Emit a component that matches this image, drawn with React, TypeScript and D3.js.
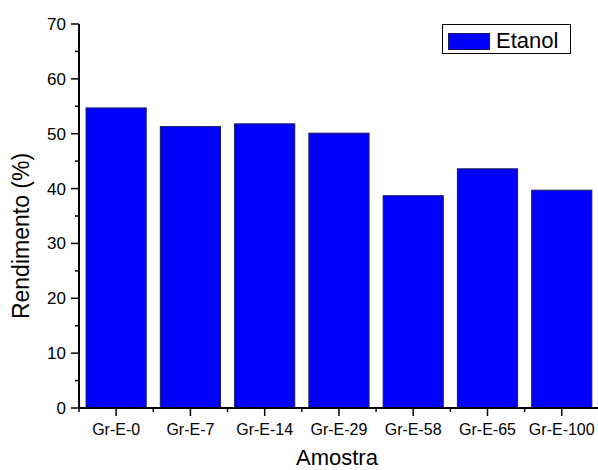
import React from "react";
import * as d3 from "d3";

const categories = ["Gr-E-0", "Gr-E-7", "Gr-E-14", "Gr-E-29", "Gr-E-58", "Gr-E-65", "Gr-E-100"];
const values = [54.7, 51.3, 51.8, 50.1, 38.7, 43.6, 39.7];
const yTicks = [0, 10, 20, 30, 40, 50, 60, 70];
const yMinor = [5, 15, 25, 35, 45, 55, 65];
const seriesName = "Etanol";

export default function App() {
  const W = 598, H = 470;
  const left = 79, right = 598.9, top = 24, bottom = 408;
  const x = d3.scaleBand<string>().domain(categories).range([left, right]).paddingInner(0.19).paddingOuter(0.095);
  const y = d3.scaleLinear().domain([0, 70]).range([bottom, top]);
  const step = x.step();
  const font = "'Liberation Sans', Arial, sans-serif";
  return (
    <svg width={W} height={H} style={{ position: "absolute", left: 0, top: 0 }} fontFamily={font}>
      <rect width={W} height={H} fill="#fff" />
      {categories.map((c, i) => (
        <rect key={c} x={x(c)!} y={y(values[i])} width={x.bandwidth()} height={bottom - y(values[i])}
          fill="#0000FF" stroke="#1a1a5a" strokeWidth={1} />
      ))}
      {/* y axis */}
      <line x1={left} x2={left} y1={top} y2={bottom} stroke="#000" strokeWidth={2} />
      {yTicks.map(t => (
        <g key={t}>
          <line x1={left - 8} x2={left} y1={y(t)} y2={y(t)} stroke="#000" strokeWidth={1.5} />
          <text x={left - 13} y={y(t)} dy="0.35em" textAnchor="end" fontSize={17} fill="#000">{t}</text>
        </g>
      ))}
      {yMinor.map(t => (
        <line key={t} x1={left - 4} x2={left} y1={y(t)} y2={y(t)} stroke="#000" strokeWidth={1.5} />
      ))}
      {/* x axis */}
      <line x1={left} x2={right} y1={bottom} y2={bottom} stroke="#000" strokeWidth={2} />
      {categories.map(c => (
        <g key={c}>
          <line x1={x(c)! + x.bandwidth() / 2} x2={x(c)! + x.bandwidth() / 2} y1={bottom} y2={bottom + 8} stroke="#000" strokeWidth={1.5} />
          <text x={x(c)! + x.bandwidth() / 2} y={435} textAnchor="middle" fontSize={16} fill="#000">{c}</text>
        </g>
      ))}
      {categories.map((c, i) => (
        <line key={"m" + i} x1={left + step * i} x2={left + step * i} y1={bottom} y2={bottom + 4} stroke="#000" strokeWidth={1.5} />
      ))}
      <text x={(left + right) / 2 - 2} y={465} textAnchor="middle" fontSize={22} fill="#000">Amostra</text>
      <text transform={`translate(29,236) rotate(-90)`} textAnchor="middle" fontSize={23} fill="#000">Rendimento (%)</text>
      {/* legend */}
      <rect x={442.5} y={24.5} width={128} height={29} fill="#fff" stroke="#000" strokeWidth={1} />
      <rect x={448.5} y={33.5} width={41} height={16} fill="#0000FF" stroke="#1a1a5a" strokeWidth={1} />
      <text x={496} y={48} fontSize={22} fill="#000">{seriesName}</text>
    </svg>
  );
}
